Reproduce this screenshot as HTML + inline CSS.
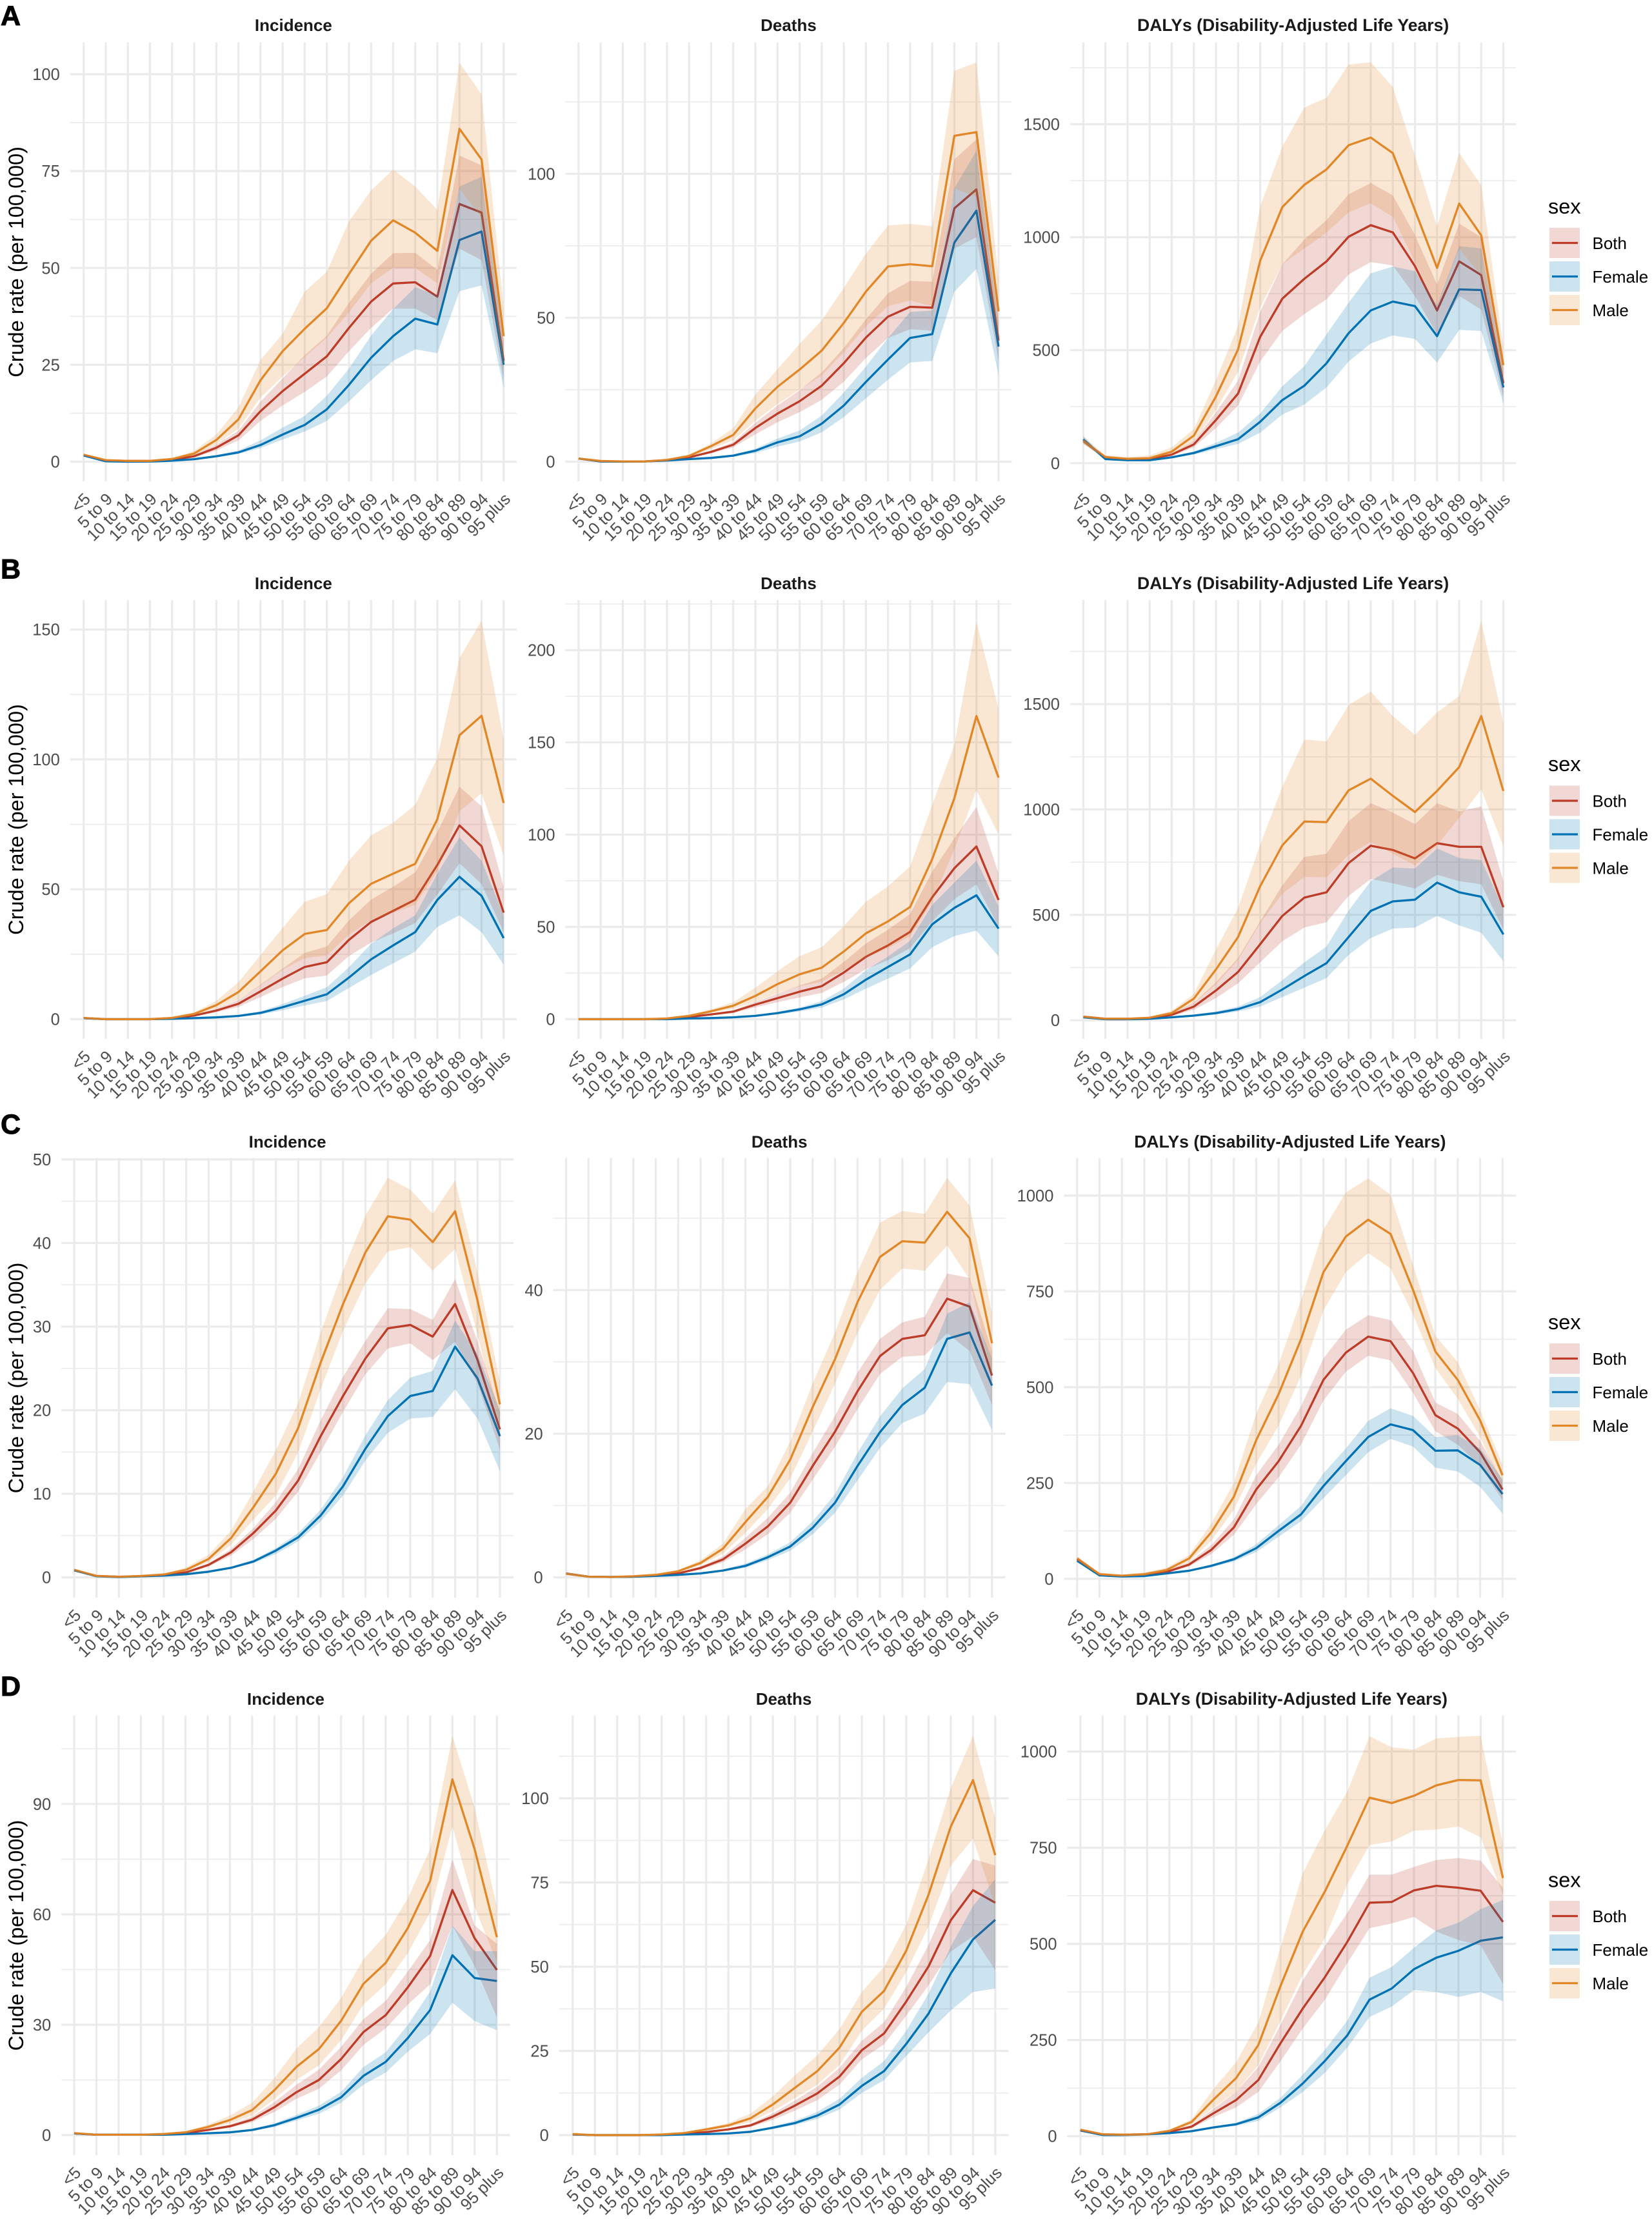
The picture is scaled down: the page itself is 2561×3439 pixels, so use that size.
<!DOCTYPE html>
<html lang="en">
<head>
<meta charset="utf-8">
<title>Crude rates by age and sex</title>
<style>
html,body{margin:0;padding:0;background:#fff;}
svg{display:block;font-family:"Liberation Sans",Arial,sans-serif;}
</style>
</head>
<body>
<svg id="figure" xmlns="http://www.w3.org/2000/svg" width="2561" height="3439" viewBox="0 0 2561 3439"></svg>
<script>
const categories=["<5","5 to 9","10 to 14","15 to 19","20 to 24","25 to 29","30 to 34","35 to 39","40 to 44","45 to 49","50 to 54","55 to 59","60 to 64","65 to 69","70 to 74","75 to 79","80 to 84","85 to 89","90 to 94","95 plus"];
const sexes=["Both","Female","Male"];

// Row A
const aIncBoth=[1.7,.3,.2,.2,.5,1.4,3.6,6.8,13,18.2,22.7,27.2,34.5,41.3,46,46.3,42.6,66.5,64.3,26];
const aIncBothLo=[1.5,.2,.1,.1,.4,1.1,2.9,5.5,10.5,14.5,18,22,28.5,34.5,39.5,39.5,36.5,55,52,21];
const aIncBothHi=[1.9,.4,.3,.3,.6,1.8,4.4,8,15.5,21.5,27.5,32.5,41,48.5,53.8,53.9,49.5,79,76.5,31];
const aIncFemale=[1.6,.1,0,.05,.25,.65,1.4,2.4,4.3,7,9.5,13.5,19.8,26.8,32.4,36.9,35.4,57.2,59.4,25];
const aIncFemaleLo=[1.4,.05,0,.03,.2,.5,1.1,2,3.5,5.7,7.8,10.5,15.5,21,26,29,28,44,45.5,19];
const aIncFemaleHi=[1.8,.15,.05,.08,.3,.8,1.7,2.9,5.5,8.8,11.8,17,24,32.5,39.4,45,43,71,73.5,30];
const aIncMale=[1.8,.4,.2,.2,.7,2.1,5.6,10.9,21,28.5,34.3,39.6,48.4,57,62.3,59.1,54.4,85.9,78,32.4];
const aIncMaleLo=[1.6,.3,.1,.1,.5,1.6,4.5,8.5,16.5,22,27,32,38.5,46,50,50,46,70.5,63,24];
const aIncMaleHi=[2,.5,.3,.3,.9,2.8,7,14,26.2,33,43.9,49,62,70,75.4,71,65,103,94.8,39.7];

const aDeaBoth=[1.1,.1,.1,.1,.5,1.5,3.4,5.9,11.7,16.7,21,26.4,34.2,43.1,50.4,53.8,53.5,88,94.6,42.1];
const aDeaBothLo=[1,.08,.08,.08,.4,1.2,2.9,5,9.5,13.7,17.2,21.5,27.8,36,43,46,45.5,74,78,35];
const aDeaBothHi=[1.2,.15,.15,.15,.6,1.8,3.9,6.8,13.5,19.5,24.8,31,39.5,49.5,58.5,62.8,62.5,105,112,50];
const aDeaFemale=[1.1,.1,0,.1,.4,.9,1.3,2.1,3.8,6.7,8.8,13.2,19.5,27.7,35.5,43,44.3,76.1,87.2,40];
const aDeaFemaleLo=[1,.08,0,.08,.3,.7,1,1.7,3,5.2,7,10.2,15.5,22,28.5,34.5,35,59,67,30];
const aDeaFemaleHi=[1.2,.15,.05,.15,.5,1.1,1.5,2.5,4.5,8,10.8,16,24,33,43,52,52.5,95,108,48];
const aDeaMale=[1.1,.25,.1,.1,.6,2,5.4,9.3,18.5,26,32,38.6,48.2,59.1,67.8,68.6,67.9,113.2,114.5,52.2];
const aDeaMaleLo=[1,.2,.08,.08,.5,1.6,4.4,7.4,14.2,20,25,30,38,47,54,56,54,95,92,42];
const aDeaMaleHi=[1.3,.3,.15,.15,.7,2.5,6.3,11.7,23.3,32.1,40.9,49.1,60.4,72.3,82.1,82.6,81.8,135.8,138.7,63.5];

const aDalBoth=[98,24,16,18,38,83,191,308,559,728,816,893,1002,1053,1021,872,676,893,832,354];
const aDalBothLo=[85,21,14,15,32,70,155,255,450,585,660,725,835,890,875,740,570,740,680,290];
const aDalBothHi=[110,27,19,21,44,97,225,365,670,880,990,1075,1190,1240,1185,1010,790,1060,1000,425];
const aDalFemale=[105,18,13,13,26,45,75,106,183,279,343,442,575,676,715,695,562,769,766,335];
const aDalFemaleLo=[90,14,10,10,21,38,62,85,135,215,260,335,450,530,565,550,445,590,585,265];
const aDalFemaleHi=[120,21,15,15,30,52,90,135,220,340,430,570,710,840,870,850,700,960,950,410];
const aDalMale=[98,27,19,22,51,122,295,503,896,1133,1232,1300,1407,1441,1372,1120,864,1149,1008,434];
const aDalMaleLo=[85,22,15,17,38,95,235,405,690,880,950,1020,1110,1150,1090,890,690,950,830,360];
const aDalMaleHi=[119,34,27,34,70,151,367,607,1136,1401,1574,1617,1764,1774,1665,1361,1048,1373,1229,511];

// Row B
const bIncBoth=[.4,0,0,0,.4,1.4,3.3,5.9,10.7,15.6,20.1,21.9,30.5,37.4,41.7,46,59.4,74.6,66.6,41];
const bIncBothLo=[.3,0,0,0,.3,1.1,2.7,4.7,8.5,12.4,15.7,16.8,24.3,29.5,33,37,48,60,52,33.5];
const bIncBothHi=[.5,0,0,0,.5,1.6,4,7.4,13.3,19.5,25.5,28,38,46,51,56.5,72,89.5,82,51];
const bIncFemale=[.4,0,0,0,.15,.4,.7,1.25,2.4,4.6,7.1,9.6,16,23,28.4,33.5,45.9,54.8,47.5,31.2];
const bIncFemaleLo=[.3,0,0,0,.1,.3,.5,.9,1.8,3.4,5.3,7,12,17,21.5,26,35.5,40,33.5,21];
const bIncFemaleHi=[.5,0,0,0,.2,.5,.9,1.7,3,5.8,9,12.3,20,29,35,40,56,70,61,40];
const bIncMale=[.5,0,0,0,.5,2,5.4,10.4,18.4,26.5,32.8,34.3,44.6,52.1,56,59.8,77,109.3,116.8,83.2];
const bIncMaleLo=[.4,0,0,0,.4,1.5,4,7.6,13,19,23.5,24.5,32.5,38,41,44,57,80,87,63];
const bIncMaleHi=[.6,.05,0,0,.7,2.6,7,14.2,24.7,35.1,45.2,48.1,60.9,70.7,75.6,82.5,100.7,139,153.4,107.6];

const bDeaBoth=[0,0,0,0,.2,1.2,2.6,4.1,7.9,11.4,14.9,17.9,25.3,33.8,40,47.3,66.1,81.8,93.6,64.6];
const bDeaBothLo=[0,0,0,0,.15,1,2.1,3.3,6.4,9.2,11.8,14.2,20.2,27,32,38.5,53,65,73,50];
const bDeaBothHi=[0,0,0,0,.25,1.4,3,4.9,9.4,13.7,18.3,22,31,41,48.5,57,80,98,115,79];
const bDeaFemale=[0,0,0,0,0,.4,.6,1,1.8,3.3,5.3,8,13.5,21.4,28.3,35.1,51.4,60.3,67.1,49.1];
const bDeaFemaleLo=[0,0,0,0,0,.3,.4,.8,1.4,2.6,4.2,6.3,10.7,16.5,22,27.5,39,45,48,34];
const bDeaFemaleHi=[0,0,0,0,0,.5,.7,1.2,2.1,4,6.3,9.8,16.5,26.5,34,42.5,62,74,86,61];
const bDeaMale=[0,0,0,0,.4,1.8,4.3,7.3,12.6,19,24.3,27.9,36.7,46.5,53,60.8,86.8,119.7,164.3,130.9];
const bDeaMaleLo=[0,0,0,0,.3,1.5,3.4,5.6,9.5,14,17.8,20.3,26.5,33.5,38.5,45,64,92,124,100];
const bDeaMaleHi=[0,0,0,0,.5,2.2,5.3,9.2,17,26,34.2,39,50.4,63.6,72,82.8,116.2,148.6,215.3,168.2];

const bDalBoth=[17,7,7,10,26,65,141,229,361,495,582,607,746,828,808,768,840,823,823,536];
const bDalBothLo=[14,6,6,8,20,50,105,175,275,375,440,465,590,670,650,625,690,660,645,430];
const bDalBothHi=[20,8,8,12,32,82,180,295,470,640,775,790,945,1030,985,930,1030,990,1015,660];
const bDalFemale=[14,5,5,7,14,22,34,53,86,146,210,271,395,519,564,572,653,607,586,407];
const bDalFemaleLo=[12,4,4,6,11,17,27,42,65,110,155,200,310,390,435,440,495,450,415,280];
const bDalFemaleHi=[16,6,6,8,17,27,42,65,110,190,275,350,520,660,725,720,815,770,760,530];
const bDalMale=[17,7,7,12,34,103,241,395,636,830,943,940,1091,1146,1065,988,1088,1201,1443,1088];
const bDalMaleLo=[15,6,6,10,26,80,170,285,460,600,680,678,785,845,790,735,830,960,1095,825];
const bDalMaleHi=[20,9,9,16,45,125,335,533,833,1108,1332,1323,1495,1560,1443,1354,1460,1538,1895,1409];

// Row C
const cIncBoth=[.85,.17,.08,.13,.25,.6,1.5,3,5.3,8,11.6,16.9,21.7,26.2,29.8,30.2,28.8,32.7,26,17.7];
const cIncBothLo=[.75,.14,.06,.1,.2,.5,1.3,2.6,4.6,7,10.3,15,19.8,24.3,27.4,28,26,28.2,23.2,15.3];
const cIncBothHi=[.95,.2,.1,.16,.3,.7,1.7,3.4,5.9,9,13,18.8,24,28.3,32.2,32.1,30.8,35.7,28.2,19.8];
const cIncFemale=[.85,.13,.04,.13,.21,.38,.68,1.14,1.9,3.2,4.8,7.4,10.9,15.4,19.3,21.7,22.3,27.6,23.8,16.9];
const cIncFemaleLo=[.75,.11,.03,.11,.18,.34,.6,1.05,1.7,2.8,4.3,6.7,9.8,14,17.3,19,19.2,22.5,19,12.7];
const cIncFemaleHi=[.95,.15,.05,.15,.24,.42,.75,1.3,2.1,3.5,5.3,8.1,12,17,21.2,23.9,24.7,30.7,26.7,20];
const cIncMale=[.9,.17,.08,.17,.34,.9,2.2,4.7,8.4,12.4,17.9,25.7,32.7,38.9,43.2,42.8,40.1,43.8,33.1,20.7];
const cIncMaleLo=[.8,.14,.06,.14,.28,.75,1.8,3.9,6.9,9.8,15,22.5,29.5,35.2,39,39.5,36.7,39.3,29,18];
const cIncMaleHi=[1,.2,.1,.2,.4,1.2,2.7,5.6,10.3,15.2,20.9,29.3,36.7,43.3,47.8,46.4,43.5,47.5,36.5,23.4];

const cDeaBoth=[.55,.1,.05,.1,.25,.55,1.3,2.5,4.7,7.1,10.4,15.5,20.3,25.9,30.8,33.2,33.7,38.8,37.7,28.1];
const cDeaBothLo=[.5,.08,.04,.08,.2,.45,1.1,2.1,3.9,6,9,13.6,18.2,23.4,28.3,30.7,30.9,34,31.5,24];
const cDeaBothHi=[.6,.12,.06,.12,.3,.65,1.55,2.9,5.5,8.3,11.8,17.3,22.5,28.5,33.2,35.5,36.3,42.3,41.7,31.5];
const cDeaFemale=[.5,.1,.05,.1,.2,.35,.55,.95,1.6,2.8,4.3,6.9,10.4,15.5,20.2,24,26.4,33.2,34.1,26.7];
const cDeaFemaleLo=[.45,.08,.04,.08,.17,.3,.45,.8,1.35,2.4,3.7,6,9,13.5,18,21.5,22.8,27.2,26.9,20.5];
const cDeaFemaleHi=[.55,.12,.06,.12,.23,.4,.65,1.1,1.9,3.2,4.9,7.8,11.6,17.3,22.4,26.3,29,36.7,38.3,30.5];
const cDeaMale=[.5,.1,.05,.15,.35,.85,2,4,7.7,11.2,16.4,23.7,30.4,38.3,44.6,46.8,46.6,50.9,47.2,32.6];
const cDeaMaleLo=[.45,.08,.04,.12,.3,.7,1.7,3.3,6.2,9.5,13.8,20.3,27,34,40,43,42.7,46.2,41.5,28];
const cDeaMaleHi=[.6,.12,.06,.18,.4,1,2.4,4.7,9.5,12.7,18.9,27,34.1,42.5,49.4,51,50.6,55.6,51.8,36.8];

const cDalBoth=[51,10,7,9,18,37,76,134,233,307,399,519,590,632,620,537,427,392,330,233];
const cDalBothLo=[46,9,6,8,15,32,65,115,195,265,350,465,540,582,570,485,385,350,295,205];
const cDalBothHi=[57,11,8,10,21,43,88,155,270,350,450,575,650,688,675,595,460,430,360,255];
const cDalFemale=[47,9,6,7,14,21,34,51,80,125,168,242,307,370,403,388,334,335,297,221];
const cDalFemaleLo=[44,8,5,6,13,19,30,45,70,110,150,210,270,330,365,345,290,280,240,170];
const cDalFemaleHi=[50,10,7,8,15,23,37,56,90,140,190,275,340,412,445,425,370,375,340,260];
const cDalMale=[53,12,8,12,23,53,122,214,362,482,625,800,893,937,900,754,593,519,413,270];
const cDalMaleLo=[47,9,6,9,18,44,100,180,300,400,530,700,800,850,810,690,550,470,370,240];
const cDalMaleHi=[59,16,10,16,29,62,145,251,431,560,727,911,1008,1045,1002,819,634,565,440,297];

// Row D
const dIncBoth=[.45,.1,.1,.1,.2,.55,1.4,2.4,4.2,7.6,11.7,15,20.7,28,32.6,40.2,48.7,66.6,53.5,44.9];
const dIncBothLo=[.4,.08,.08,.08,.15,.4,1.2,2,3.5,6.3,9.9,12.6,17.6,24.5,29,35.5,41,57,46,32];
const dIncBothHi=[.5,.12,.12,.12,.25,.7,1.7,2.9,5,9,13.7,17.8,24,31.5,36.5,44.5,53,75,57,52];
const dIncFemale=[.45,.1,.1,.1,.1,.3,.5,.75,1.4,2.7,4.7,6.9,10.3,16.1,19.9,26.4,34,48.9,42.7,41.9];
const dIncFemaleLo=[.4,.08,.08,.08,.08,.25,.4,.6,1.1,2.2,4,5.8,8.8,13.7,17,22.7,27.5,36,31,28.5];
const dIncFemaleHi=[.5,.12,.12,.12,.12,.35,.6,.9,1.7,3.2,5.5,8,11.8,18.5,22.5,30,39,57,50,50];
const dIncMale=[.55,.1,.1,.1,.3,.75,2.2,4.1,6.8,12.2,18.6,23.4,31.1,41.1,46.8,56.3,69.1,96.7,77.7,53.8];
const dIncMaleLo=[.5,.08,.08,.08,.25,.6,1.7,3.2,5.3,9.8,15,19,25.8,35.5,41,49.5,60.5,84,62,47];
const dIncMaleHi=[.6,.12,.12,.12,.4,1,2.8,5.3,8.8,15.5,23.6,29.3,37.3,47.8,54.4,64.4,77.7,108.5,89,62];

const dDeaBoth=[.2,0,0,0,.1,.4,.9,1.7,2.9,5.5,8.8,12.4,17.4,25.2,30.2,39.7,50.1,63.8,72.7,69];
const dDeaBothLo=[.15,0,0,0,.08,.3,.7,1.4,2.4,4.5,7.3,10.4,15,22.5,27,35.5,44.5,54.5,59,49];
const dDeaBothHi=[.25,0,0,0,.12,.5,1.1,2,3.4,6.5,10.3,14.4,20,28,33.5,44,56.5,71.5,82,80];
const dDeaFemale=[.2,0,0,0,0,.2,.3,.5,1,2.2,3.6,5.8,9.1,14.6,19,27.1,36.1,48,58.1,63.9];
const dDeaFemaleLo=[.15,0,0,0,0,.15,.25,.4,.8,1.8,3,4.8,7.6,12.5,16.3,23.5,30.5,37,42.5,43.5];
const dDeaFemaleHi=[.25,0,0,0,0,.25,.4,.6,1.2,2.6,4.3,6.9,10.8,17,22,31,42,56,68,76];
const dDeaMale=[.3,0,0,0,.2,.6,1.7,2.9,5,9.1,14.1,19,26,36.6,42.8,54.8,71.4,91.6,105.4,83.1];
const dDeaMaleLo=[.25,0,0,0,.15,.45,1.3,2.3,3.9,7.1,11,15,20.8,31,37.5,48.5,62,80,88,68];
const dDeaMaleHi=[.35,0,0,0,.25,.75,2.1,3.6,6.4,11.5,17.8,23.7,31.5,42.5,50,62.5,82,103,118.5,94];

const dDalBoth=[15,4,4,5,11,25,60,94,146,242,332,414,505,607,609,639,651,646,638,557];
const dDalBothLo=[13,3,3,4,9,21,50,75,115,195,280,355,450,541,553,570,532,510,496,396];
const dDalBothHi=[17,5,4,6,13,29,72,115,180,290,405,495,580,680,680,700,718,723,716,646];
const dDalFemale=[15,3,3,5,8,13,23,31,49,87,137,196,262,355,384,434,464,482,508,517];
const dDalFemaleLo=[14,3,3,4,7,11,20,27,40,75,115,165,230,310,337,380,375,362,375,351];
const dDalFemaleHi=[16,4,4,6,9,15,26,35,58,100,160,225,300,412,440,490,535,555,590,614];
const dDalMale=[17,5,4,5,14,37,96,151,237,391,532,637,755,880,866,885,912,926,925,671];
const dDalMaleLo=[14,4,3,4,11,30,75,115,185,300,420,515,655,757,766,794,797,805,777,628];
const dDalMaleHi=[20,6,5,7,17,44,124,192,296,491,684,796,896,1040,1011,1005,1034,1038,1041,759];

// Axis ticks
const ticksAInc=[0,25,50,75,100];
const minorAInc=[12.5,37.5,62.5,87.5];
const ticksADea=[0,50,100];
const minorADea=[25,75,125];
const ticksADal=[0,500,1000,1500];
const minorADal=[250,750,1250,1750];
const ticksBInc=[0,50,100,150];
const minorBInc=[25,75,125];
const ticksBDea=[0,50,100,150,200];
const minorBDea=[25,75,125,175,225];
const ticksBDal=[0,500,1000,1500];
const minorBDal=[250,750,1250,1750];
const ticksCInc=[0,10,20,30,40,50];
const minorCInc=[5,15,25,35,45];
const ticksCDea=[0,20,40];
const minorCDea=[10,30,50];
const ticksCDal=[0,250,500,750,1000];
const minorCDal=[125,375,625,875];
const ticksDInc=[0,30,60,90];
const minorDInc=[15,45,75,105];
const ticksDDea=[0,25,50,75,100];
const minorDDea=[12.5,37.5,62.5,87.5,112.5];
const ticksDDal=[0,250,500,750,1000];
const minorDDal=[125,375,625,875];

const colors={Both:"#BC3C29",Female:"#0072B5",Male:"#E18727"};
const NS="http://www.w3.org/2000/svg";
const root=document.getElementById("figure");

function mk(tag,parent){
  const el=document.createElementNS(NS,tag);
  parent.appendChild(el);
  return el;
}

const rows=[
 {letter:"A",letterY:39,top:65.7,bottom:746,titleY:48,legendTitleY:331,legendY:353,panels:[
  {title:"Incidence",key:"incidence",x0:129.7,x1:780.8,left:108.8,right:801,y0:715.5,yRef:115,vRef:100,ticks:ticksAInc,minor:minorAInc,ylab:true,
   Both:[aIncBoth,aIncBothLo,aIncBothHi],Female:[aIncFemale,aIncFemaleLo,aIncFemaleHi],Male:[aIncMale,aIncMaleLo,aIncMaleHi]},
  {title:"Deaths",key:"deaths",x0:896.9,x1:1548,left:876.5,right:1568.4,y0:715.5,yRef:269.4,vRef:100,ticks:ticksADea,minor:minorADea,
   Both:[aDeaBoth,aDeaBothLo,aDeaBothHi],Female:[aDeaFemale,aDeaFemaleLo,aDeaFemaleHi],Male:[aDeaMale,aDeaMaleLo,aDeaMaleHi]},
  {title:"DALYs (Disability-Adjusted Life Years)",key:"dalys",x0:1679.4,x1:2330.6,left:1659,right:2350.3,y0:717.8,yRef:192.5,vRef:1500,ticks:ticksADal,minor:minorADal,
   Both:[aDalBoth,aDalBothLo,aDalBothHi],Female:[aDalFemale,aDalFemaleLo,aDalFemaleHi],Male:[aDalMale,aDalMaleLo,aDalMaleHi]}
 ]},
 {letter:"B",letterY:896.5,top:930,bottom:1610,titleY:913,legendTitleY:1195,legendY:1217.5,panels:[
  {title:"Incidence",key:"incidence",x0:129.7,x1:780.8,left:108.8,right:801,y0:1579.5,yRef:975.6,vRef:150,ticks:ticksBInc,minor:minorBInc,ylab:true,
   Both:[bIncBoth,bIncBothLo,bIncBothHi],Female:[bIncFemale,bIncFemaleLo,bIncFemaleHi],Male:[bIncMale,bIncMaleLo,bIncMaleHi]},
  {title:"Deaths",key:"deaths",x0:896.9,x1:1548,left:876.5,right:1568.4,y0:1579.5,yRef:1007.6,vRef:200,ticks:ticksBDea,minor:minorBDea,
   Both:[bDeaBoth,bDeaBothLo,bDeaBothHi],Female:[bDeaFemale,bDeaFemaleLo,bDeaFemaleHi],Male:[bDeaMale,bDeaMaleLo,bDeaMaleHi]},
  {title:"DALYs (Disability-Adjusted Life Years)",key:"dalys",x0:1679.4,x1:2330.6,left:1659,right:2350.3,y0:1581.2,yRef:1091.2,vRef:1500,ticks:ticksBDal,minor:minorBDal,
   Both:[bDalBoth,bDalBothLo,bDalBothHi],Female:[bDalFemale,bDalFemaleLo,bDalFemaleHi],Male:[bDalMale,bDalMaleLo,bDalMaleHi]}
 ]},
 {letter:"C",letterY:1757,top:1794.7,bottom:2476,titleY:1778.5,legendTitleY:2060,legendY:2082,panels:[
  {title:"Incidence",key:"incidence",x0:115,x1:775,left:95.2,right:796,y0:2444.6,yRef:1796.9,vRef:50,ticks:ticksCInc,minor:minorCInc,ylab:true,
   Both:[cIncBoth,cIncBothLo,cIncBothHi],Female:[cIncFemale,cIncFemaleLo,cIncFemaleHi],Male:[cIncMale,cIncMaleLo,cIncMaleHi]},
  {title:"Deaths",key:"deaths",x0:877.6,x1:1537.8,left:857.7,right:1558.7,y0:2444.6,yRef:1999.3,vRef:40,ticks:ticksCDea,minor:minorCDea,
   Both:[cDeaBoth,cDeaBothLo,cDeaBothHi],Female:[cDeaFemale,cDeaFemaleLo,cDeaFemaleHi],Male:[cDeaMale,cDeaMaleLo,cDeaMaleHi]},
  {title:"DALYs (Disability-Adjusted Life Years)",key:"dalys",x0:1669.8,x1:2329.3,left:1649.4,right:2350.3,y0:2446.8,yRef:1852.9,vRef:1000,ticks:ticksCDal,minor:minorCDal,
   Both:[cDalBoth,cDalBothLo,cDalBothHi],Female:[cDalFemale,cDalFemaleLo,cDalFemaleHi],Male:[cDalMale,cDalMaleLo,cDalMaleHi]}
 ]},
 {letter:"D",letterY:2628,top:2658.8,bottom:3340,titleY:2642,legendTitleY:2924.5,legendY:2946,panels:[
  {title:"Incidence",key:"incidence",x0:115,x1:770.3,left:95.2,right:790.7,y0:3309,yRef:2795.8,vRef:90,ticks:ticksDInc,minor:minorDInc,ylab:true,
   Both:[dIncBoth,dIncBothLo,dIncBothHi],Female:[dIncFemale,dIncFemaleLo,dIncFemaleHi],Male:[dIncMale,dIncMaleLo,dIncMaleHi]},
  {title:"Deaths",key:"deaths",x0:887.8,x1:1542.9,left:866.8,right:1563.3,y0:3309,yRef:2787,vRef:100,ticks:ticksDDea,minor:minorDDea,
   Both:[dDeaBoth,dDeaBothLo,dDeaBothHi],Female:[dDeaFemale,dDeaFemaleLo,dDeaFemaleHi],Male:[dDeaMale,dDeaMaleLo,dDeaMaleHi]},
  {title:"DALYs (Disability-Adjusted Life Years)",key:"dalys",x0:1674.9,x1:2329.9,left:1654.5,right:2350.3,y0:3310.7,yRef:2714.5,vRef:1000,ticks:ticksDDal,minor:minorDDal,
   Both:[dDalBoth,dDalBothLo,dDalBothHi],Female:[dDalFemale,dDalFemaleLo,dDalFemaleHi],Male:[dDalMale,dDalMaleLo,dDalMaleHi]}
 ]}
];

function drawPanel(row,p){
  const g=mk("g",root);
  
  
  const xAt=i=>p.x0+(p.x1-p.x0)*i/(categories.length-1);
  const yAt=v=>p.y0+(p.yRef-p.y0)*v/p.vRef;

  p.minor.forEach(v=>{
    const l=mk("line",g);
    
    
    l.setAttribute("x1",p.left);l.setAttribute("x2",p.right);
    l.setAttribute("y1",yAt(v));l.setAttribute("y2",yAt(v));
    l.setAttribute("stroke","#ededed");l.setAttribute("stroke-width","1.8");
  });
  p.ticks.forEach(v=>{
    const l=mk("line",g);
    
    
    l.setAttribute("x1",p.left);l.setAttribute("x2",p.right);
    l.setAttribute("y1",yAt(v));l.setAttribute("y2",yAt(v));
    l.setAttribute("stroke","#ebebeb");l.setAttribute("stroke-width","3.2");
    const t=mk("text",g);
    
    
    t.setAttribute("x",p.left-16);t.setAttribute("y",yAt(v)+9);
    t.setAttribute("text-anchor","end");t.setAttribute("font-size","25.5");t.setAttribute("fill","#4d4d4d");
    t.textContent=String(v);
  });
  categories.forEach((c,i)=>{
    const l=mk("line",g);
    
    
    l.setAttribute("x1",xAt(i));l.setAttribute("x2",xAt(i));
    l.setAttribute("y1",row.top);l.setAttribute("y2",row.bottom);
    l.setAttribute("stroke","#ebebeb");l.setAttribute("stroke-width","3.2");
    const t=mk("text",g);
    
    
    const ax=xAt(i)+12, ay=row.bottom+29;
    t.setAttribute("x",ax);t.setAttribute("y",ay);
    t.setAttribute("transform","rotate(-45 "+ax+" "+ay+")");
    t.setAttribute("text-anchor","end");t.setAttribute("font-size","25.5");t.setAttribute("fill","#4d4d4d");
    t.textContent=c;
  });

  sexes.forEach(s=>{
    const path=mk("polyline",g);
    
    
    path.setAttribute("fill","none");
    path.setAttribute("stroke",colors[s]);
    path.setAttribute("stroke-width","3.3");
    path.setAttribute("stroke-linejoin","round");
    path.setAttribute("points",p[s][0].map((v,i)=>xAt(i).toFixed(1)+","+yAt(v).toFixed(1)).join(" "));
  });
  sexes.forEach(s=>{
    const rib=mk("polygon",g);
    
    
    rib.setAttribute("fill",colors[s]);
    rib.setAttribute("fill-opacity","0.2");
    const up=p[s][2].map((v,i)=>xAt(i).toFixed(1)+","+yAt(v).toFixed(1));
    const lo=p[s][1].map((v,i)=>xAt(i).toFixed(1)+","+yAt(v).toFixed(1)).reverse();
    rib.setAttribute("points",up.concat(lo).join(" "));
  });

  const title=mk("text",g);
  
  
  title.setAttribute("x",(p.left+p.right)/2);title.setAttribute("y",row.titleY);
  title.setAttribute("text-anchor","middle");title.setAttribute("font-size",p.key==="dalys"?"26.6":"26");title.setAttribute("font-weight","bold");title.setAttribute("fill","#1a1a1a");
  title.textContent=p.title;

  if(p.ylab){
    const cy=(row.top+row.bottom)/2;
    const yl=mk("text",g);
    
    
    yl.setAttribute("x",36);yl.setAttribute("y",cy);
    yl.setAttribute("transform","rotate(-90 36 "+cy+")");
    yl.setAttribute("text-anchor","middle");yl.setAttribute("font-size","32.5");yl.setAttribute("fill","#000");
    yl.textContent="Crude rate (per 100,000)";
  }
}

function drawLegend(row){
  const g=mk("g",root);
  
  
  const lt=mk("text",g);
  
  
  lt.setAttribute("x",2400);lt.setAttribute("y",row.legendTitleY);
  lt.setAttribute("font-size","32.5");lt.setAttribute("fill","#000");
  lt.textContent="sex";
  sexes.forEach((s,i)=>{
    const top=row.legendY+i*52;
    const e=mk("g",g);
    
    
    const r=mk("rect",e);
    
    
    r.setAttribute("x",2402);r.setAttribute("y",top);r.setAttribute("width",47);r.setAttribute("height",47);
    r.setAttribute("fill",colors[s]);r.setAttribute("fill-opacity","0.2");
    const l=mk("line",e);
    
    
    l.setAttribute("x1",2406);l.setAttribute("x2",2446);
    l.setAttribute("y1",top+23.5);l.setAttribute("y2",top+23.5);
    l.setAttribute("stroke",colors[s]);l.setAttribute("stroke-width","3.3");
    const t=mk("text",e);
    
    
    t.setAttribute("x",2468.5);t.setAttribute("y",top+33);
    t.setAttribute("font-size","26");t.setAttribute("fill","#000");
    t.textContent=s;
  });
}

rows.forEach(row=>{
  const lt=mk("text",root);
  
  
  lt.setAttribute("x",1);lt.setAttribute("y",row.letterY);
  lt.setAttribute("font-size","43");lt.setAttribute("font-weight","bold");lt.setAttribute("fill","#000");
  lt.setAttribute("stroke","#000");lt.setAttribute("stroke-width","1");
  lt.textContent=row.letter;
  row.panels.forEach(p=>drawPanel(row,p));
  drawLegend(row);
});
</script>
</body>
</html>
